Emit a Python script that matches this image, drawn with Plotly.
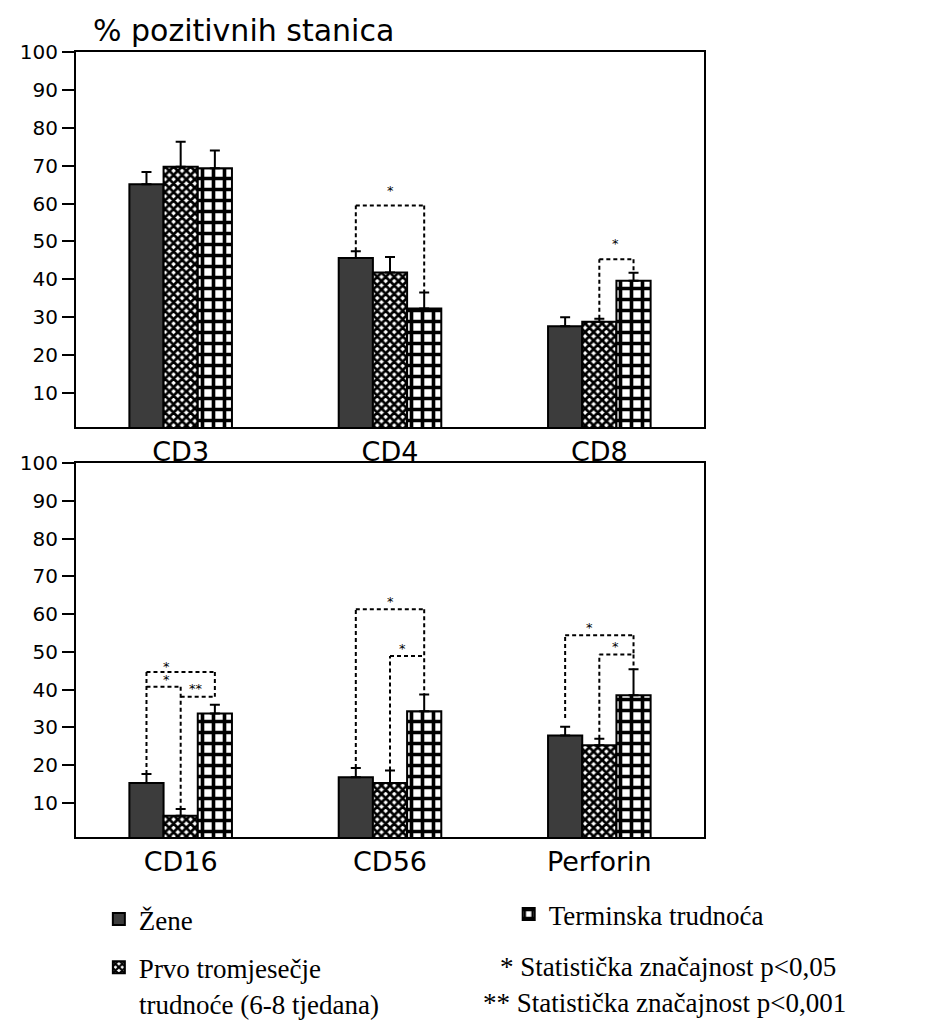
import plotly.graph_objects as go

# ---------------- data ----------------
cats_top = ["CD3", "CD4", "CD8"]
cats_bot = ["CD16", "CD56", "Perforin"]
series_names = ["Žene", "Prvo tromjesečje", "Terminska trudnoća"]
series_name_cont = "trudnoće (6-8 tjedana)"

zene_top = [65.1, 45.6, 27.6]
zene_top_err = [3.2, 1.8, 2.4]
prvo_top = [69.7, 41.8, 28.8]
prvo_top_err = [6.6, 4.1, 0.8]
term_top = [69.3, 32.3, 39.6]
term_top_err = [4.7, 4.2, 2.1]

zene_bot = [15.3, 16.8, 27.9]
zene_bot_err = [2.4, 2.5, 2.3]
prvo_bot = [6.6, 15.3, 25.3]
prvo_bot_err = [1.8, 3.3, 1.7]
term_bot = [33.7, 34.3, 38.5]
term_bot_err = [2.3, 4.4, 6.9]

y_ticks = [10, 20, 30, 40, 50, 60, 70, 80, 90, 100]

# significance brackets: (category index, bar a, bar b, top, end at a, end at b, label, label pos a->b, label y)
brackets_top = [
    (1, 0, 2, 59.5, 47.4, 36.5, "*", 0.50, 63.5),
    (2, 1, 2, 45.3, 29.6, 41.7, "*", 0.47, 49.4),
]
brackets_bot = [
    (0, 0, 2, 44.7, 17.7, 38.1, "*", 0.30, 46.2),
    (0, 0, 1, 40.8, 40.8, 8.4, "*", 0.58, 42.8),
    (0, 1, 2, 38.1, 38.1, 38.1, "**", 0.45, 40.4),
    (1, 0, 2, 61.3, 19.3, 38.7, "*", 0.50, 63.4),
    (1, 1, 2, 48.9, 18.6, 48.9, "*", 0.38, 50.9),
    (2, 0, 2, 54.4, 32.5, 49.3, "*", 0.35, 56.5),
    (2, 1, 2, 49.3, 27.0, 45.4, "*", 0.47, 51.4),
]

notes = ["* Statistička značajnost p&lt;0,05", "** Statistička značajnost p&lt;0,001"]

# ---------------- style ----------------
SANS = "DejaVu Sans"
SERIF = "Liberation Serif"
BARGAP = 0.51
W = (1 - BARGAP) / 3.0

styles = [
    dict(color="#3c3c3c", line=dict(color="black", width=2)),
    dict(color="white", line=dict(color="black", width=2),
         pattern=dict(shape="x", fgcolor="black", bgcolor="white", size=6, solidity=0.7, fillmode="replace")),
    dict(color="white", line=dict(color="black", width=2),
         pattern=dict(shape="+", fgcolor="black", bgcolor="white", size=11, solidity=0.55, fillmode="replace")),
]
legends = ["legend", "legend", "legend2"]
groups = ["g1", "g2", "g3"]

fig = go.Figure()
xs = [0, 1, 2]

top_sets = [(zene_top, zene_top_err), (prvo_top, prvo_top_err), (term_top, term_top_err)]
bot_sets = [(zene_bot, zene_bot_err), (prvo_bot, prvo_bot_err), (term_bot, term_bot_err)]

for i, (vals, errs) in enumerate(top_sets):
    fig.add_trace(go.Bar(
        x=xs, y=vals, name=series_names[i], marker=styles[i],
        error_y=dict(type="data", symmetric=False, array=errs, arrayminus=[0] * len(errs),
                     color="black", thickness=2, width=5),
        xaxis="x", yaxis="y", legend=legends[i], legendgroup=groups[i], showlegend=True,
        offsetgroup=str(i)))
for i, (vals, errs) in enumerate(bot_sets):
    fig.add_trace(go.Bar(
        x=xs, y=vals, name=series_names[i], marker=styles[i],
        error_y=dict(type="data", symmetric=False, array=errs, arrayminus=[0] * len(errs),
                     color="black", thickness=2, width=5),
        xaxis="x2", yaxis="y2", legendgroup=groups[i], showlegend=False,
        offsetgroup=str(i)))

shapes = []
annotations = []


def bar_x(cat, idx):
    return cat + (idx - 1) * W


for brs, xr, yr in [(brackets_top, "x", "y"), (brackets_bot, "x2", "y2")]:
    for cat, a, b, top, ea, eb, lab, t, ly in brs:
        xa, xb = bar_x(cat, a), bar_x(cat, b)
        ln = dict(color="black", width=2, dash="4px,3px")
        if ea != top:
            shapes.append(dict(type="line", xref=xr, yref=yr, x0=xa, x1=xa, y0=ea, y1=top, line=ln))
        shapes.append(dict(type="line", xref=xr, yref=yr, x0=xa, x1=xb, y0=top, y1=top, line=ln))
        if eb != top:
            shapes.append(dict(type="line", xref=xr, yref=yr, x0=xb, x1=xb, y0=top, y1=eb, line=ln))
        annotations.append(dict(x=xa + t * (xb - xa), y=ly, xref=xr, yref=yr, text=lab, showarrow=False,
                                font=dict(family=SANS, size=13, color="black"),
                                xanchor="center", yanchor="middle"))

# title
annotations.append(dict(x=0.266, y=1.028, xref="paper", yref="paper", text="% pozitivnih stanica",
                        showarrow=False, font=dict(family=SANS, size=30, color="black"),
                        xanchor="center", yanchor="middle"))
# second line of the "Prvo" legend label
annotations.append(dict(x=0.097, y=-0.214, xref="paper", yref="paper", text=series_name_cont,
                        showarrow=False, font=dict(family=SERIF, size=27, color="black"),
                        xanchor="left", yanchor="middle"))
# significance notes
annotations.append(dict(x=0.672, y=-0.1656, xref="paper", yref="paper", text=notes[0], showarrow=False,
                        font=dict(family=SERIF, size=27, color="black"), xanchor="left", yanchor="middle"))
annotations.append(dict(x=0.645, y=-0.2115, xref="paper", yref="paper", text=notes[1], showarrow=False,
                        font=dict(family=SERIF, size=27, color="black"), xanchor="left", yanchor="middle"))

yaxis_common = dict(range=[1, 100], tickvals=y_ticks, ticks="outside", ticklen=12, tickwidth=2,
                    tickcolor="black", showline=True, linewidth=2, linecolor="black", mirror=True,
                    showgrid=False, zeroline=False,
                    tickfont=dict(family=SANS, size=20, color="black"))
xaxis_common = dict(range=[-0.5, 2.5], tickvals=xs, ticks="", showline=True, linewidth=2,
                    linecolor="black", mirror=True, showgrid=False, zeroline=False,
                    tickfont=dict(family=SANS, size=27, color="black"))

fig.update_layout(
    width=933, height=1026,
    margin=dict(l=65, r=237, t=44, b=197),
    paper_bgcolor="white", plot_bgcolor="white",
    barmode="group", bargap=BARGAP, bargroupgap=0,
    xaxis=dict(domain=[0, 1], anchor="y", ticktext=cats_top, **xaxis_common),
    yaxis=dict(domain=[0.5223, 1], anchor="x", **yaxis_common),
    xaxis2=dict(domain=[0, 1], anchor="y2", ticktext=cats_bot, **xaxis_common),
    yaxis2=dict(domain=[0, 0.4764], anchor="x2", **yaxis_common),
    shapes=shapes, annotations=annotations,
    legend=dict(x=0.0364, y=-0.0739, xanchor="left", yanchor="top", orientation="v",
                font=dict(family=SERIF, size=27, color="black"), tracegroupgap=10, valign="middle",
                bgcolor="rgba(0,0,0,0)"),
    legend2=dict(x=0.689, y=-0.0675, xanchor="left", yanchor="top", orientation="v",
                 font=dict(family=SERIF, size=27, color="black"), valign="middle",
                 bgcolor="rgba(0,0,0,0)"),
    showlegend=True,
)

fig.write_html("out.html")
